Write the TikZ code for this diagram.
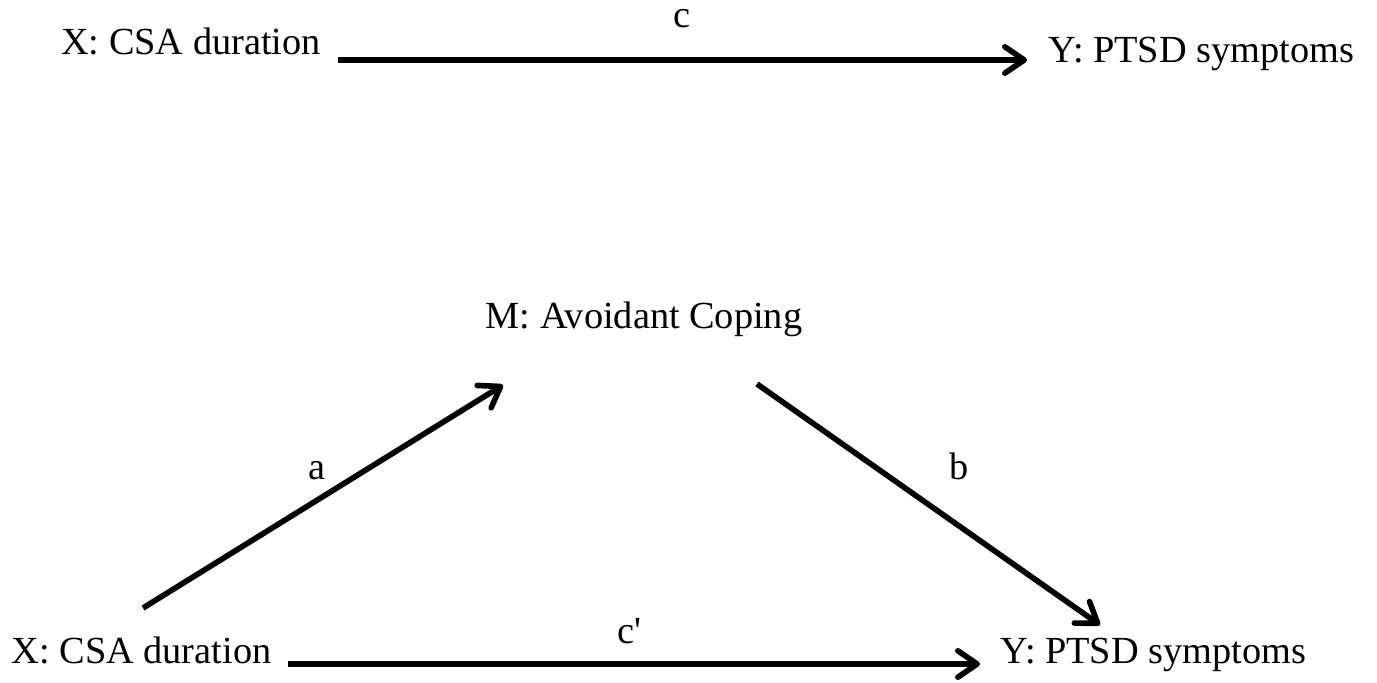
\documentclass[tikz,border=0pt]{standalone}
\usepackage{fontspec}
\setmainfont{Liberation Serif}
\usepackage{tikz}
\usetikzlibrary{arrows.meta, positioning}
\tikzset{
	varnode/.style={
			anchor=base,
			inner sep=0pt,
			font=\fontsize{10.9}{13}\selectfont
		},
	pathlabel/.style={
			varnode
		},
	patharrow/.style={
			line width=1.6pt,
			-{Straight Barb[length=5.5pt,width=7.5pt,round]}
		}
}

\begin{document}
\begin{tikzpicture}[x=0.01cm, y=0.01cm]
\useasboundingbox (0,0) rectangle (1377,-683);

% total effect
\node[varnode] (x1) at (191,-55)  {X: CSA duration};
\node[varnode] (y1) at (1201.5,-63)  {Y: PTSD symptoms};
\node[pathlabel] (lc) at (682,-28)  {c};

% mediation model
\node[varnode] (m) at (644,-329)  {M: Avoidant Coping};
\node[varnode] (x2) at (141.5,-663)  {X: CSA duration};
\node[varnode] (y2) at (1153.5,-663)  {Y: PTSD symptoms};
\node[pathlabel] (la) at (317,-480)  {a};
\node[pathlabel] (lb) at (959,-480)  {b};
\node[pathlabel] (lcp) at (629,-643)  {c\textquotesingle};

\draw[patharrow] ([shift={(147,-5)}]x1.base) -- ([shift={(-174.5,3)}]y1.base);

\draw[patharrow] ([shift={(1.5,55)}]x2.base) -- ([shift={(-141,-56)}]m.base);
\draw[patharrow] ([shift={(113,-55)}]m.base) -- ([shift={(-53.5,38)}]y2.base);
\draw[patharrow] ([shift={(146.5,-1)}]x2.base) -- ([shift={(-173.5,-1)}]y2.base);
\end{tikzpicture}
\end{document}
